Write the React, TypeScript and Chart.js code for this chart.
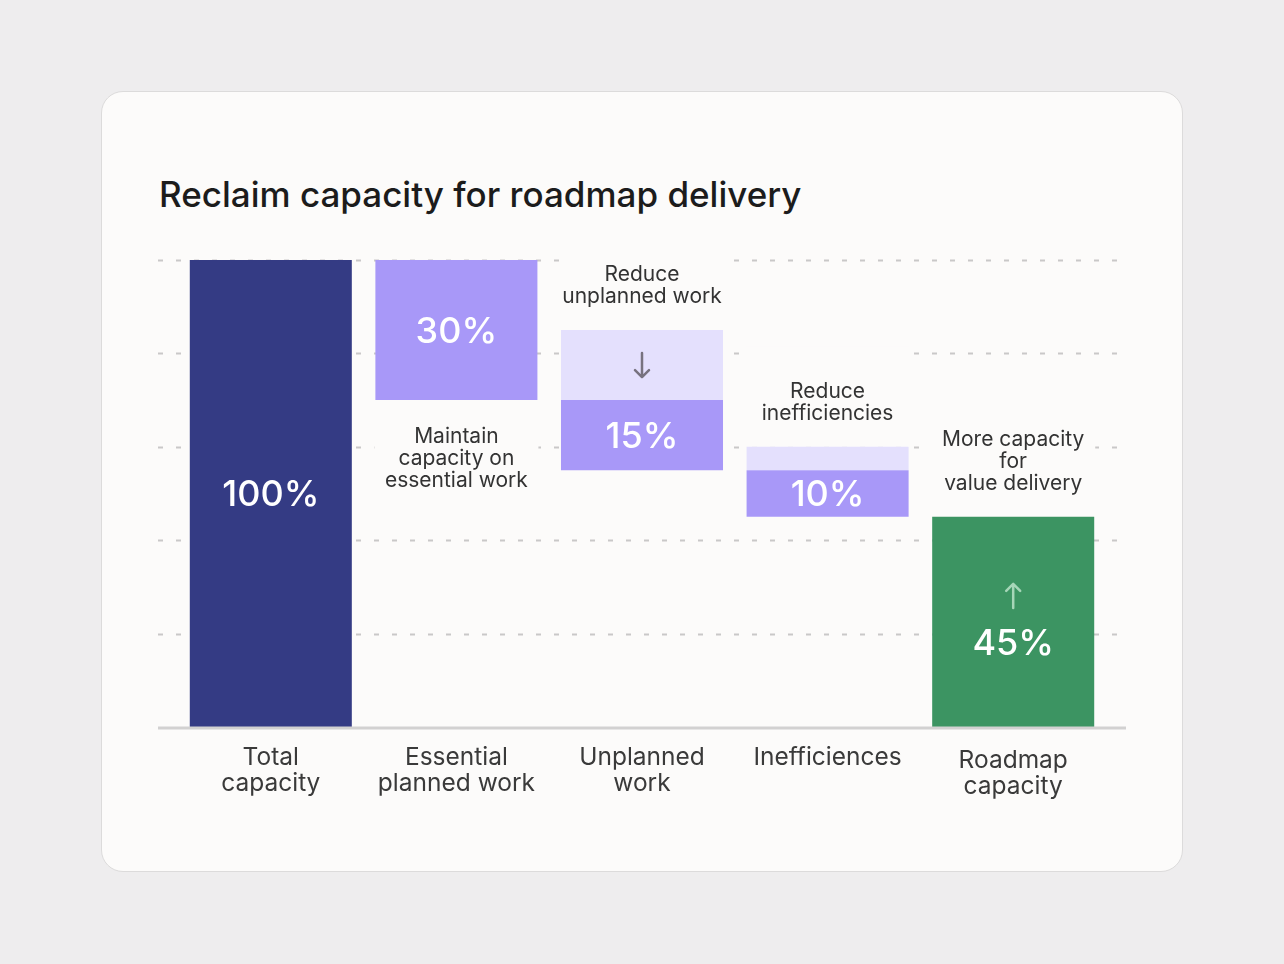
import React, { useEffect, useRef } from "react";
import { Chart, registerables } from "chart.js";

Chart.register(...registerables);

const TITLE = "Reclaim capacity for roadmap delivery";
const categories = [
  ["Total", "capacity"],
  ["Essential", "planned work"],
  ["Unplanned", "work"],
  ["Inefficiences"],
  ["Roadmap", "capacity"],
];
// floating bars [start, end] in percent
const mainValues: ([number, number] | null)[] = [
  [0, 100],
  [70, 100],
  [55, 70],
  [45, 55],
  [0, 45],
];
const reductionValues: ([number, number] | null)[] = [null, null, [70, 85], [55, 60], null];
const valueLabels = ["100%", "30%", "15%", "10%", "45%"];
const annotations: (string[] | null)[] = [
  null,
  ["Maintain", "capacity on", "essential work"],
  ["Reduce", "unplanned work"],
  ["Reduce", "inefficiencies"],
  ["More capacity", "for", "value delivery"],
];
const annotationSide = [null, "below", "above", "above", "above"];
const arrows = [null, null, "down", "down", "up"];
const yTicks = [0, 20, 40, 60, 80, 100];

const NAVY = "#343B84";
const PURPLE = "#A898F8";
const LAVENDER = "#E4E0FD";
const GREEN = "#3C9462";
const CARD = "#FCFBFA";
const PAGE = "#EEEDEE";
const FONT = "Inter, 'Noto Sans', sans-serif";

const overlay = {
  id: "overlay",
  beforeDatasetsDraw(chart: any) {
    const { ctx, chartArea, scales } = chart;
    const y = scales.y;
    const left = chartArea.left - 20;
    const right = chartArea.right + 20;
    ctx.save();
    ctx.strokeStyle = "#C9C8C8";
    ctx.lineWidth = 2;
    ctx.setLineDash([5, 13]);
    for (const v of yTicks) {
      if (v === 0) continue;
      const py = Math.round(y.getPixelForValue(v)) + 0.5;
      ctx.beginPath();
      ctx.moveTo(left, py);
      ctx.lineTo(right, py);
      ctx.stroke();
    }
    ctx.setLineDash([]);
    // annotation backgrounds hiding the grid
    const m0 = chart.getDatasetMeta(0);
    const m1 = chart.getDatasetMeta(1);
    annotations.forEach((a, i) => {
      if (!a) return;
      const el = m0.data[i];
      const w = el.width;
      let top = Math.min(el.y, el.base);
      let bottom = Math.max(el.y, el.base);
      const r = m1.data[i];
      if (reductionValues[i] && r) {
        top = Math.min(top, r.y, r.base);
      }
      ctx.fillStyle = CARD;
      if (annotationSide[i] === "above") {
        ctx.fillRect(el.x - w / 2 - 1, top - 100, w + 2, 100);
      } else {
        ctx.fillRect(el.x - w / 2 - 1, bottom, w + 2, 100);
      }
    });
    ctx.restore();
  },
  afterDatasetsDraw(chart: any) {
    const { ctx, chartArea } = chart;
    const m0 = chart.getDatasetMeta(0);
    const m1 = chart.getDatasetMeta(1);
    ctx.save();
    // baseline
    ctx.strokeStyle = "#D2D1D1";
    ctx.lineWidth = 3;
    ctx.beginPath();
    ctx.moveTo(chartArea.left - 20, chartArea.bottom + 1);
    ctx.lineTo(chartArea.right + 20, chartArea.bottom + 1);
    ctx.stroke();

    ctx.textAlign = "center";
    ctx.textBaseline = "middle";
    m0.data.forEach((el: any, i: number) => {
      const top = Math.min(el.y, el.base);
      const bottom = Math.max(el.y, el.base);
      const cy = (top + bottom) / 2;
      // value label
      ctx.fillStyle = "#FFFFFF";
      ctx.font = `500 36px ${FONT}`;
      const shift = arrows[i] === "up" ? 20 : 0;
      ctx.fillText(valueLabels[i], el.x, cy + shift + 2);

      // arrows
      if (arrows[i] === "up") {
        drawArrow(ctx, el.x, cy - 26, "up", "#A6D6B8");
      } else if (arrows[i] === "down" && i === 2) {
        const r = m1.data[i];
        const rc = (Math.min(r.y, r.base) + Math.max(r.y, r.base)) / 2;
        drawArrow(ctx, el.x, rc, "down", "#77727F");
      }

      // annotation text
      const a = annotations[i];
      if (a) {
        let atop = top;
        const r = m1.data[i];
        if (reductionValues[i] && r) atop = Math.min(atop, r.y, r.base);
        ctx.fillStyle = "#333333";
        ctx.font = `400 21px ${FONT}`;
        const lh = 22;
        if (annotationSide[i] === "above") {
          const last = atop - 33;
          a.forEach((t, k) => {
            ctx.fillText(t, el.x, last - (a.length - 1 - k) * lh);
          });
        } else {
          const first = bottom + 37;
          a.forEach((t, k) => ctx.fillText(t, el.x, first + k * lh));
        }
      }

      // category label
      ctx.fillStyle = "#3A3A3A";
      ctx.font = `400 24.5px ${FONT}`;
      const lines = categories[i];
      const extra = i === 4 ? 3 : 0;
      lines.forEach((t, k) => ctx.fillText(t, el.x, chartArea.bottom + 31 + extra + k * 26));
    });
    ctx.restore();
  },
};

function drawArrow(ctx: CanvasRenderingContext2D, x: number, cy: number, dir: "up" | "down", color: string) {
  const half = 12;
  const head = 7;
  ctx.save();
  ctx.strokeStyle = color;
  ctx.lineWidth = 2.5;
  ctx.lineCap = "round";
  ctx.lineJoin = "round";
  ctx.beginPath();
  ctx.moveTo(x, cy - half);
  ctx.lineTo(x, cy + half);
  if (dir === "down") {
    ctx.moveTo(x - head, cy + half - head);
    ctx.lineTo(x, cy + half);
    ctx.lineTo(x + head, cy + half - head);
  } else {
    ctx.moveTo(x - head, cy - half + head);
    ctx.lineTo(x, cy - half);
    ctx.lineTo(x + head, cy - half + head);
  }
  ctx.stroke();
  ctx.restore();
}

export default function App() {
  const ref = useRef<HTMLCanvasElement | null>(null);
  useEffect(() => {
    if (!ref.current) return;
    const chart = new Chart(ref.current, {
      type: "bar",
      data: {
        labels: categories.map((c) => c.join(" ")),
        datasets: [
          {
            data: mainValues as any,
            backgroundColor: [NAVY, PURPLE, PURPLE, PURPLE, GREEN],
            grouped: false,
            barPercentage: 0.873,
            categoryPercentage: 1,
            borderWidth: 0,
          } as any,
          {
            data: reductionValues as any,
            backgroundColor: LAVENDER,
            grouped: false,
            barPercentage: 0.873,
            categoryPercentage: 1,
            borderWidth: 0,
          } as any,
        ],
      },
      options: {
        animation: false,
        responsive: false,
        maintainAspectRatio: false,
        devicePixelRatio: 1,
        layout: { padding: { left: 178, right: 178, top: 260, bottom: 237 } },
        plugins: { legend: { display: false }, tooltip: { enabled: false }, title: { display: false } },
        scales: {
          x: { display: false, offset: true },
          y: { display: false, min: 0, max: 100, ticks: { stepSize: 20 } },
        },
      },
      plugins: [overlay],
    });
    return () => chart.destroy();
  }, []);

  return (
    <div style={{ position: "fixed", inset: 0, width: 1284, height: 964, background: PAGE, overflow: "hidden" }}>
      <div
        style={{
          position: "absolute",
          left: 101,
          top: 91,
          width: 1080,
          height: 779,
          background: CARD,
          border: "1.5px solid #DCDBDB",
          borderRadius: 22,
        }}
      />
      <div
        style={{
          position: "absolute",
          left: 159,
          top: 173,
          fontFamily: FONT,
          fontSize: 35,
          fontWeight: 500,
          lineHeight: "42px",
          color: "#1C1C1C",
          whiteSpace: "nowrap",
        }}
      >
        {TITLE}
      </div>
      <canvas ref={ref} width={1284} height={964} style={{ position: "absolute", left: 0, top: 0 }} />
    </div>
  );
}
